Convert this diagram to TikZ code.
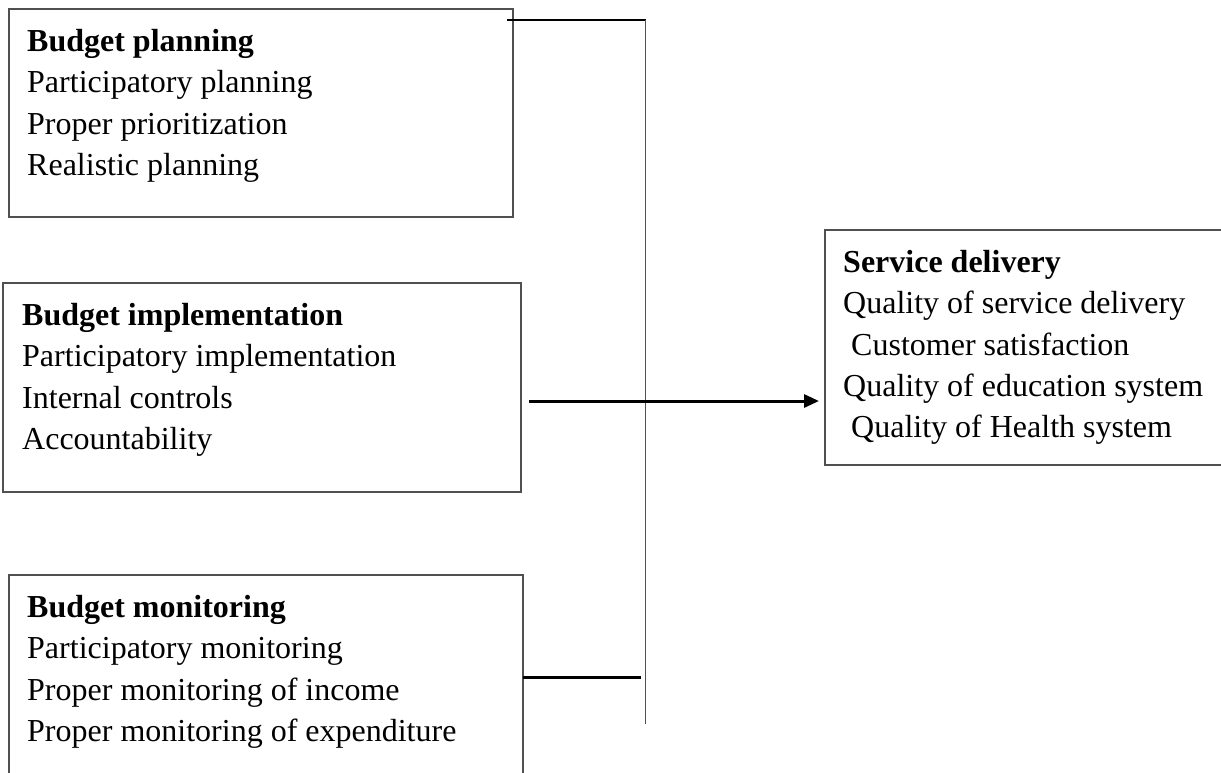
\documentclass[tikz,border=0pt]{standalone}
\usepackage{fontspec}
\setmainfont{Liberation Serif}
\usetikzlibrary{arrows.meta,calc}
\definecolor{boxgray}{HTML}{505050}
\begin{document}
\begin{tikzpicture}[x=1pt,y=-1pt,
  frame/.style={draw=boxgray,line width=1.7pt,inner sep=0pt,outer sep=0pt,anchor=north west},
  label/.style={anchor=north west,inner sep=0pt,align=left,font=\fontsize{32}{41.3}\selectfont},
  link/.style={line width=1.4pt,draw=black},
  vline/.style={line width=1.4pt,draw=boxgray},
  heavylink/.style={line width=3pt,draw=black},
]
\useasboundingbox (0,0) rectangle (1221,772);
\clip (0,0) rectangle (1221,772);

% boxes
\node[frame,minimum width=504pt,minimum height=208pt] (plan) at (9,8.7) {};
\node[frame,minimum width=518pt,minimum height=209pt] (impl) at (3,283) {};
\node[frame,minimum width=514pt,minimum height=212pt] (mon)  at (9,575) {};
\node[frame,minimum width=410pt,minimum height=235pt] (serv) at (825,230) {};

% box contents
\node[label] (plantext) at (27,29)
  {\textbf{Budget planning}\\Participatory planning\\Proper prioritization\\Realistic planning};
\node[label] (impltext) at (22,303)
  {\textbf{Budget implementation}\\Participatory implementation\\Internal controls\\Accountability};
\node[label] (montext) at (27,595)
  {\textbf{Budget monitoring}\\Participatory monitoring\\Proper monitoring of income\\Proper monitoring of expenditure};
\node[label] (servtext) at (843,250)
  {\textbf{Service delivery}\\Quality of service delivery\\\hspace*{0.25em}Customer satisfaction\\Quality of education system\\\hspace*{0.25em}Quality of Health system};

% connectors
\coordinate (jtop) at (645.5,20);
\coordinate (jbot) at (645.5,724);
\coordinate (astart) at (529,401);
\coordinate (mjoin) at (641,677);

\draw[link] ($(plan.north east |- jtop)+(-6,0)$) -- (jtop);
\draw[vline] (jtop) -- (jbot);
\draw[heavylink,-{Triangle[length=15pt,width=13pt]}] (astart) -- ($(serv.west |- astart)+(-6,0)$);
\draw[heavylink] (mon.east |- mjoin) -- (mjoin);
\end{tikzpicture}
\end{document}
